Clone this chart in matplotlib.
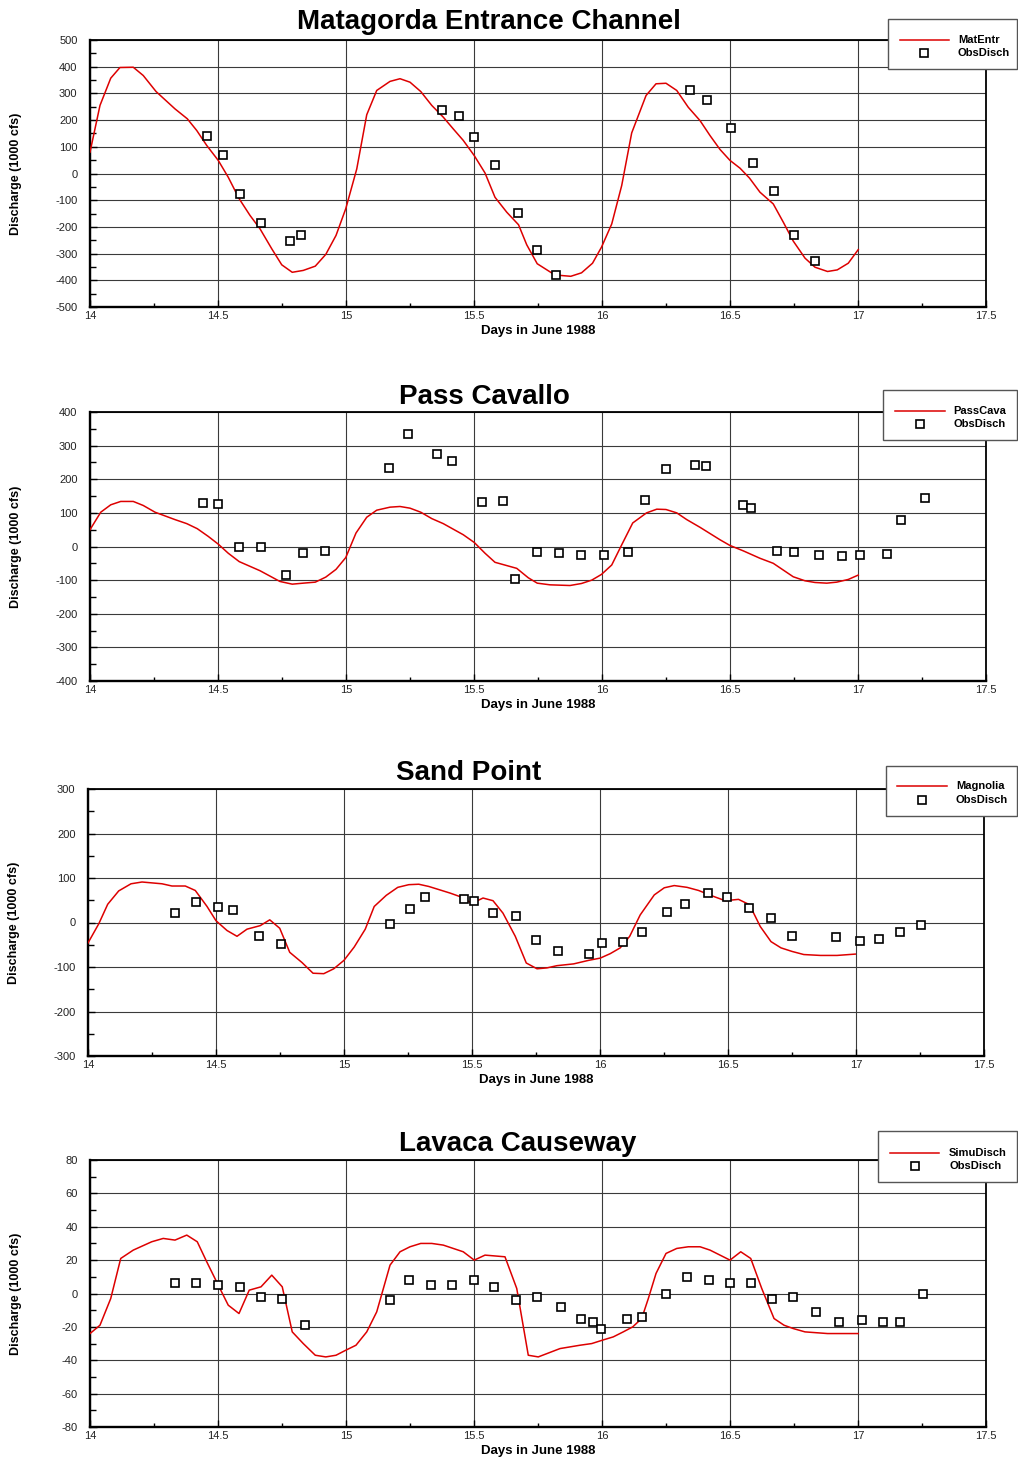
import matplotlib
matplotlib.use("Agg")
import matplotlib.pyplot as plt
from matplotlib.lines import Line2D
from matplotlib.patches import Rectangle
from matplotlib.ticker import MultipleLocator, FixedLocator, FixedFormatter

plt.rcParams['font.family'] = ['Liberation Sans', 'DejaVu Sans']
plt.rcParams['axes.unicode_minus'] = False

# ---------------- data ----------------
x_ticks = [14, 14.5, 15, 15.5, 16, 16.5, 17, 17.5]
x_tick_labels = ["14", "14.5", "15", "15.5", "16", "16.5", "17", "17.5"]

# Matagorda Entrance Channel
mat_sim_day = [14.000, 14.039, 14.081, 14.117, 14.169, 14.208, 14.258, 14.332, 14.380, 14.417,
               14.456, 14.501, 14.540, 14.583, 14.625, 14.664, 14.710, 14.749, 14.790, 14.833,
               14.880, 14.921, 14.961, 14.999, 15.042, 15.081, 15.120, 15.172, 15.211, 15.250,
               15.292, 15.335, 15.380, 15.419, 15.458, 15.501, 15.543, 15.582, 15.628, 15.674,
               15.706, 15.747, 15.816, 15.878, 15.920, 15.963, 15.998, 16.038, 16.077, 16.116,
               16.172, 16.211, 16.250, 16.292, 16.337, 16.383, 16.422, 16.461, 16.500, 16.539,
               16.576, 16.617, 16.669, 16.708, 16.747, 16.793, 16.832, 16.881, 16.919, 16.962,
               17.001]
mat_sim_val = [80, 255, 357, 397, 398, 367, 307, 242, 205, 161,
               105, 49, -14, -95, -157, -207, -282, -342, -370, -363,
               -347, -303, -232, -132, 17, 220, 311, 345, 355, 342,
               307, 255, 211, 167, 124, 67, 2, -89, -145, -192,
               -267, -338, -380, -385, -372, -336, -276, -189, -45, 152,
               292, 336, 338, 311, 248, 198, 142, 90, 49, 20,
               -17, -70, -114, -182, -253, -317, -351, -367, -361, -336,
               -285]
mat_obs_day = [14.457, 14.521, 14.587, 14.667, 14.780, 14.826, 15.375, 15.443, 15.500, 15.582,
               15.672, 15.747, 15.819, 16.345, 16.410, 16.505, 16.591, 16.672, 16.750, 16.833]
mat_obs_val = [140, 69, -76, -184, -252, -230, 237, 215, 136, 32,
               -147, -287, -382, 313, 275, 169, 41, -66, -230, -327]

# Pass Cavallo
pc_sim_day = [14.000, 14.042, 14.081, 14.120, 14.169, 14.208, 14.254, 14.332, 14.378, 14.419,
              14.462, 14.501, 14.540, 14.583, 14.664, 14.742, 14.790, 14.833, 14.880, 14.921,
              14.961, 14.999, 15.039, 15.081, 15.120, 15.172, 15.211, 15.250, 15.292, 15.335,
              15.380, 15.458, 15.501, 15.543, 15.582, 15.667, 15.712, 15.747, 15.797, 15.875,
              15.920, 15.960, 15.998, 16.038, 16.077, 16.120, 16.174, 16.214, 16.250, 16.292,
              16.331, 16.383, 16.461, 16.500, 16.552, 16.617, 16.669, 16.708, 16.747, 16.793,
              16.832, 16.878, 16.917, 16.962, 17.001]
pc_sim_val = [50, 102, 124, 134, 134, 122, 102, 80, 68, 53,
              30, 7, -20, -45, -72, -104, -112, -109, -106, -91,
              -68, -33, 40, 87, 108, 117, 119, 114, 102, 83,
              68, 35, 12, -20, -47, -65, -93, -109, -114, -116,
              -110, -100, -83, -55, 5, 70, 100, 111, 110, 100,
              80, 57, 20, 3, -13, -35, -50, -70, -90, -102,
              -107, -109, -106, -98, -85]
pc_obs_day = [14.443, 14.500, 14.583, 14.667, 14.764, 14.833, 14.917, 15.168, 15.243, 15.354,
              15.414, 15.533, 15.615, 15.660, 15.747, 15.833, 15.917, 16.006, 16.102, 16.167,
              16.250, 16.362, 16.406, 16.552, 16.583, 16.682, 16.751, 16.849, 16.939, 17.008,
              17.112, 17.168, 17.262]
pc_obs_val = [128, 126, 0, 0, -85, -20, -14, 233, 335, 276,
              254, 133, 136, -98, -17, -18, -25, -25, -17, 137,
              230, 242, 239, 124, 114, -12, -15, -25, -27, -25,
              -23, 79, 143]

# Sand Point
sp_sim_day = [14.000, 14.042, 14.077, 14.120, 14.168, 14.211, 14.289, 14.328, 14.380, 14.419,
              14.465, 14.500, 14.543, 14.582, 14.621, 14.673, 14.710, 14.749, 14.788, 14.836,
              14.879, 14.921, 14.960, 15.000, 15.040, 15.083, 15.118, 15.165, 15.210, 15.253,
              15.292, 15.331, 15.376, 15.415, 15.454, 15.500, 15.543, 15.582, 15.621, 15.669,
              15.712, 15.754, 15.793, 15.832, 15.897, 15.956, 16.001, 16.040, 16.079, 16.116,
              16.157, 16.212, 16.251, 16.290, 16.340, 16.385, 16.437, 16.489, 16.541, 16.584,
              16.626, 16.668, 16.707, 16.750, 16.796, 16.861, 16.926, 16.997]
sp_sim_val = [-46, -3, 41, 71, 87, 91, 87, 82, 82, 72,
              36, 4, -18, -31, -15, -7, 6, -13, -67, -90,
              -114, -115, -104, -85, -55, -15, 36, 61, 79, 85,
              86, 81, 73, 66, 58, 43, 55, 49, 21, -31,
              -91, -104, -102, -97, -93, -85, -80, -70, -57, -31,
              17, 62, 78, 83, 79, 72, 60, 49, 52, 40,
              -9, -43, -57, -65, -72, -74, -74, -71]
sp_obs_day = [14.339, 14.421, 14.508, 14.565, 14.669, 14.754, 15.181, 15.259, 15.318, 15.470,
              15.507, 15.582, 15.671, 15.749, 15.837, 15.956, 16.006, 16.091, 16.165, 16.260,
              16.333, 16.423, 16.498, 16.583, 16.667, 16.751, 16.922, 17.017, 17.091, 17.171,
              17.255]
sp_obs_val = [21, 46, 35, 27, -31, -49, -4, 30, 58, 52,
              49, 21, 14, -40, -63, -70, -45, -43, -22, 24,
              42, 67, 57, 33, 10, -30, -32, -41, -36, -22,
              -5]

# Lavaca Causeway
lc_sim_day = [14.000, 14.039, 14.081, 14.120, 14.169, 14.241, 14.286, 14.332, 14.378, 14.419,
              14.456, 14.501, 14.540, 14.582, 14.622, 14.668, 14.710, 14.751, 14.790, 14.833,
              14.880, 14.921, 14.961, 14.999, 15.039, 15.081, 15.120, 15.172, 15.211, 15.250,
              15.292, 15.335, 15.380, 15.419, 15.458, 15.501, 15.543, 15.621, 15.667, 15.712,
              15.751, 15.836, 15.914, 15.960, 16.001, 16.044, 16.083, 16.120, 16.155, 16.181,
              16.211, 16.250, 16.292, 16.337, 16.383, 16.422, 16.461, 16.500, 16.542, 16.581,
              16.624, 16.672, 16.711, 16.747, 16.793, 16.881, 17.001]
lc_sim_val = [-24, -19, -3, 21, 26, 31, 33, 32, 35, 31,
              19, 5, -7, -12, 2, 4, 11, 4, -23, -30,
              -37, -38, -37, -34, -31, -23, -11, 17, 25, 28,
              30, 30, 29, 27, 25, 20, 23, 22, 3, -37,
              -38, -33, -31, -30, -28, -26, -23, -20, -15, -3,
              12, 24, 27, 28, 28, 26, 23, 20, 25, 21,
              3, -15, -19, -21, -23, -24, -24]
lc_obs_day = [14.332, 14.413, 14.500, 14.585, 14.667, 14.750, 14.840, 15.172, 15.247, 15.332,
              15.415, 15.500, 15.579, 15.663, 15.745, 15.841, 15.918, 15.964, 15.997, 16.096,
              16.158, 16.250, 16.333, 16.417, 16.500, 16.581, 16.664, 16.747, 16.836, 16.924,
              17.014, 17.096, 17.164, 17.255]
lc_obs_val = [6, 6, 5, 4, -2, -3, -19, -4, 8, 5,
              5, 8, 4, -4, -2, -8, -15, -17, -21, -15,
              -14, 0, 10, 8, 6, 6, -3, -2, -11, -17,
              -16, -17, -17, 0]

titles = ["Matagorda Entrance Channel", "Pass Cavallo", "Sand Point", "Lavaca Causeway"]
sim_labels = ["MatEntr", "PassCava", "Magnolia", "SimuDisch"]
obs_label = "ObsDisch"
x_label = "Days in June 1988"
y_label = "Discharge (1000 cfs)"

# ---------------- layout (pixels) ----------------
W, H = 1018, 1462
fig = plt.figure(figsize=(W / 100, H / 100), dpi=100)
fig.patch.set_facecolor("white")


def fx(x):
    return x / W


def fy(y):
    return 1 - y / H


RED = "#dd0000"
GRID = "#3a3a3a"
TICKC = "#222222"

panels = [
    dict(box=(90, 40, 986, 307), ylim=(-500, 500), major=100, minor=50,
         sim=(mat_sim_day, mat_sim_val), obs=(mat_obs_day, mat_obs_val),
         title_xy=(489, 29), leg=dict(box=(888, 19, 1017, 69), line=(900, 949, 40),
                                      mk=(924, 53), tx=958)),
    dict(box=(90, 412, 986, 681), ylim=(-400, 400), major=100, minor=50,
         sim=(pc_sim_day, pc_sim_val), obs=(pc_obs_day, pc_obs_val),
         title_xy=(484, 404), leg=dict(box=(883, 390, 1017, 440), line=(895, 945, 411),
                                       mk=(920, 424), tx=953)),
    dict(box=(88, 789, 984, 1056), ylim=(-300, 300), major=100, minor=50,
         sim=(sp_sim_day, sp_sim_val), obs=(sp_obs_day, sp_obs_val),
         title_xy=(469, 780), leg=dict(box=(886, 766, 1017, 816), line=(897, 947, 786),
                                       mk=(922, 800), tx=956)),
    dict(box=(90, 1160, 986, 1427), ylim=(-80, 80), major=20, minor=10,
         sim=(lc_sim_day, lc_sim_val), obs=(lc_obs_day, lc_obs_val),
         title_xy=(518, 1151), leg=dict(box=(878, 1131, 1017, 1182), line=(890, 939, 1153),
                                        mk=(915, 1166), tx=949)),
]

line_kw = dict(color=RED, lw=1.1)
mark_kw = dict(ls="none", marker="s", ms=6.2, mfc="white", mec="black", mew=1.2)

for i, p in enumerate(panels):
    l, t, r, b = p["box"]
    ax = fig.add_axes([fx(l), fy(b), (r - l) / W, (b - t) / H])
    ax.set_xlim(14, 17.5)
    ax.set_ylim(*p["ylim"])

    ax.xaxis.set_major_locator(FixedLocator(x_ticks))
    ax.xaxis.set_major_formatter(FixedFormatter(x_tick_labels))
    ax.xaxis.set_minor_locator(MultipleLocator(0.25))
    ax.yaxis.set_major_locator(MultipleLocator(p["major"]))
    ax.yaxis.set_minor_locator(MultipleLocator(p["minor"]))

    ax.grid(True, which="major", color=GRID, lw=0.8)
    ax.set_axisbelow(True)

    ax.tick_params(which="both", direction="in", colors="black", labelcolor=TICKC,
                   labelsize=8, top=False, right=False)
    ax.tick_params(axis="y", which="major", length=5, width=1.0, pad=9)
    ax.tick_params(axis="y", which="minor", length=4, width=1.0)
    ax.tick_params(axis="x", which="major", length=5, width=1.0, pad=3)
    ax.tick_params(axis="x", which="minor", length=3, width=1.0)

    for side in ("left", "bottom"):
        ax.spines[side].set_linewidth(1.7)
    for side in ("top", "right"):
        ax.spines[side].set_linewidth(1.3)

    ax.plot(p["sim"][0], p["sim"][1], **line_kw, zorder=3)
    ax.plot(p["obs"][0], p["obs"][1], **mark_kw, zorder=4)

    ax.set_xlabel(x_label, fontsize=9.5, fontweight="bold", va="top")
    ax.xaxis.set_label_coords(0.5, -18 / (b - t))
    ax.set_ylabel(y_label, fontsize=9, fontweight="bold", va="center")
    ax.yaxis.set_label_coords((16 - (90 - l) - l) / (r - l), 0.5)

    tx_, ty_ = p["title_xy"]
    fig.text(fx(tx_), fy(ty_), titles[i], fontsize=20, fontweight="bold",
             ha="center", va="baseline")

    # legend box
    lg = p["leg"]
    x0, y0, x1, y1 = lg["box"]
    fig.add_artist(Rectangle((fx(x0), fy(y1)), (x1 - x0) / W, (y1 - y0) / H,
                             transform=fig.transFigure, facecolor="white",
                             edgecolor="#555555", lw=1.0, zorder=10))
    lx0, lx1, ly = lg["line"]
    fig.add_artist(Line2D([fx(lx0), fx(lx1)], [fy(ly), fy(ly)], transform=fig.transFigure,
                          zorder=11, **line_kw))
    mx, my = lg["mk"]
    fig.add_artist(Line2D([fx(mx)], [fy(my)], transform=fig.transFigure, zorder=11, **mark_kw))
    fig.text(fx(lg["tx"]), fy(ly), sim_labels[i], fontsize=8, fontweight="bold",
             ha="left", va="center", zorder=12)
    fig.text(fx(lg["tx"]), fy(my), obs_label, fontsize=8, fontweight="bold",
             ha="left", va="center", zorder=12)

fig.savefig("out.png", dpi=100, facecolor="white")
